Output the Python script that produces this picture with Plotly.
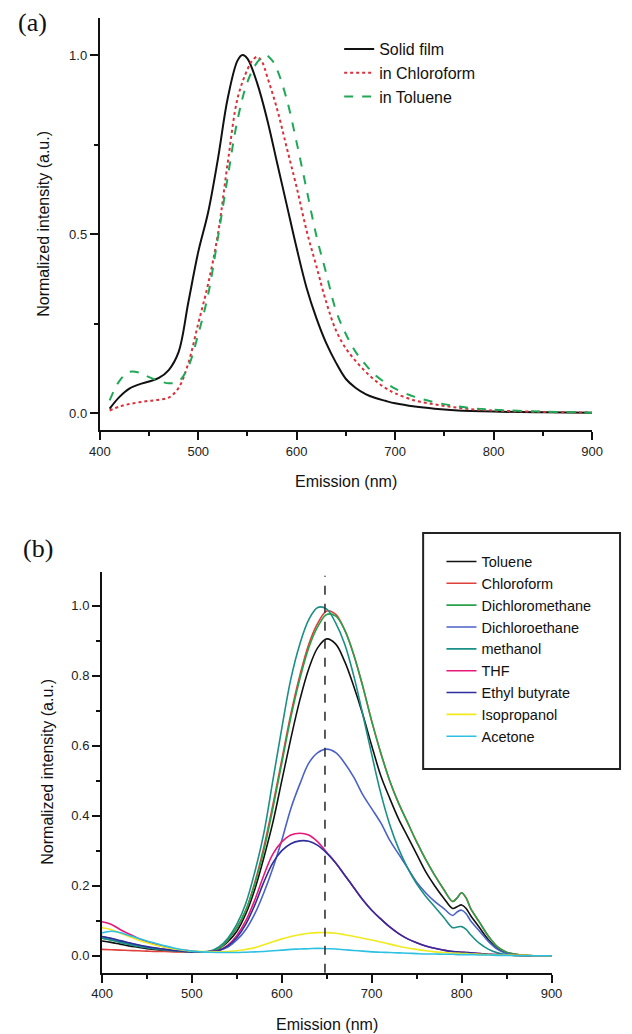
import plotly.graph_objects as go

W, H = 632, 1034

# ---------------- Panel (a) data ----------------
wl_film = [410, 420, 430, 440, 450, 460, 470, 480, 490, 500, 510, 520, 530, 540, 545, 550,
           560, 570, 580, 590, 600, 610, 620, 630, 640, 650, 660, 670, 680, 690, 700,
           720, 740, 760, 800, 850, 900]
solid_film = [0.012, 0.045, 0.068, 0.080, 0.088, 0.098, 0.120, 0.170, 0.310, 0.450, 0.560,
              0.710, 0.880, 0.985, 1.000, 0.990, 0.920, 0.820, 0.700, 0.580, 0.460, 0.350,
              0.265, 0.195, 0.140, 0.095, 0.070, 0.053, 0.042, 0.034, 0.027, 0.018, 0.012,
              0.008, 0.004, 0.002, 0.001]

wl_chcl3 = [410, 420, 430, 440, 450, 460, 470, 480, 490, 500, 510, 520, 530, 540, 550, 555,
            560, 565, 570, 580, 590, 600, 610, 620, 630, 640, 650, 660, 670, 680, 690, 700,
            720, 740, 760, 780, 800, 850, 900]
in_chloroform = [0.007, 0.018, 0.025, 0.030, 0.034, 0.037, 0.043, 0.070, 0.140, 0.250, 0.360,
                 0.500, 0.700, 0.880, 0.960, 0.985, 0.995, 0.980, 0.940, 0.850, 0.740, 0.630,
                 0.510, 0.410, 0.310, 0.230, 0.180, 0.145, 0.115, 0.090, 0.070, 0.055, 0.035,
                 0.024, 0.016, 0.010, 0.007, 0.003, 0.001]

wl_tol = [410, 420, 430, 440, 450, 460, 470, 480, 490, 500, 510, 520, 530, 540, 550, 560,
          568, 575, 580, 590, 600, 610, 620, 630, 640, 650, 660, 670, 680, 690, 700,
          720, 740, 760, 780, 800, 850, 900]
in_toluene = [0.035, 0.090, 0.115, 0.113, 0.100, 0.090, 0.083, 0.088, 0.130, 0.220, 0.330,
              0.490, 0.660, 0.820, 0.925, 0.980, 1.000, 0.985, 0.960, 0.875, 0.755, 0.625,
              0.495, 0.390, 0.285, 0.220, 0.170, 0.135, 0.105, 0.085, 0.068, 0.045, 0.030,
              0.020, 0.013, 0.009, 0.004, 0.001]

legend_a = ["Solid film", "in Chloroform", "in Toluene"]

# ---------------- Panel (b) data ----------------
wl_b = [400, 410, 420, 430, 440, 450, 460, 470, 480, 490,
        500, 510, 520, 530, 540, 550, 560, 570, 580, 590,
        600, 610, 620, 630, 640, 650, 660, 670, 680, 690,
        700, 710, 720, 730, 740, 750, 760, 770, 780, 790,
        795, 800, 805,
        810, 820, 830, 840, 850, 860, 870, 880, 890, 900]

toluene = [0.042, 0.038, 0.033, 0.028, 0.024, 0.020, 0.017, 0.015, 0.013, 0.012,
           0.011, 0.011, 0.012, 0.020, 0.040, 0.070, 0.120, 0.190, 0.280, 0.380,
           0.500, 0.620, 0.730, 0.820, 0.880, 0.905, 0.890, 0.840, 0.770, 0.690,
           0.600, 0.515, 0.450, 0.390, 0.340, 0.290, 0.240, 0.200, 0.165, 0.135,
           0.140, 0.145, 0.135,
           0.115, 0.080, 0.045, 0.020, 0.008, 0.003, 0.001, 0.0, 0.0, 0.0]
chloroform = [0.018, 0.017, 0.016, 0.015, 0.014, 0.013, 0.012, 0.012, 0.011, 0.011,
              0.010, 0.010, 0.012, 0.020, 0.045, 0.080, 0.130, 0.210, 0.310, 0.430,
              0.560, 0.690, 0.800, 0.890, 0.950, 0.985, 0.975, 0.930, 0.860, 0.770,
              0.670, 0.580, 0.500, 0.435, 0.380, 0.325, 0.275, 0.230, 0.190, 0.155,
              0.165, 0.180, 0.165,
              0.135, 0.095, 0.055, 0.025, 0.010, 0.004, 0.001, 0.0, 0.0, 0.0]
dichloromethane = [0.050, 0.045, 0.039, 0.033, 0.028, 0.024, 0.020, 0.017, 0.015, 0.013,
                   0.012, 0.011, 0.012, 0.020, 0.045, 0.080, 0.130, 0.205, 0.300, 0.420,
                   0.550, 0.680, 0.790, 0.880, 0.940, 0.975, 0.970, 0.930, 0.860, 0.770,
                   0.670, 0.580, 0.500, 0.435, 0.380, 0.325, 0.275, 0.230, 0.190, 0.155,
                   0.165, 0.180, 0.165,
                   0.135, 0.095, 0.055, 0.025, 0.010, 0.004, 0.001, 0.0, 0.0, 0.0]
dichloroethane = [0.055, 0.049, 0.042, 0.036, 0.030, 0.025, 0.021, 0.018, 0.015, 0.013,
                  0.011, 0.010, 0.010, 0.015, 0.025, 0.045, 0.075, 0.120, 0.180, 0.250,
                  0.330, 0.420, 0.490, 0.550, 0.580, 0.590, 0.580, 0.550, 0.510, 0.460,
                  0.420, 0.380, 0.330, 0.290, 0.250, 0.210, 0.180, 0.155, 0.135, 0.115,
                  0.125, 0.130, 0.120,
                  0.100, 0.070, 0.040, 0.018, 0.006, 0.002, 0.0, 0.0, 0.0, 0.0]
methanol = [0.050, 0.045, 0.038, 0.032, 0.027, 0.023, 0.019, 0.016, 0.014, 0.012,
            0.011, 0.011, 0.013, 0.025, 0.050, 0.090, 0.150, 0.240, 0.350, 0.500,
            0.650, 0.790, 0.890, 0.960, 0.995, 0.990, 0.950, 0.890, 0.800, 0.690,
            0.575, 0.465, 0.375, 0.305, 0.250, 0.205, 0.170, 0.140, 0.110, 0.080,
            0.082, 0.083, 0.075,
            0.060, 0.035, 0.018, 0.008, 0.003, 0.001, 0.0, 0.0, 0.0, 0.0]
thf = [0.097, 0.090, 0.075, 0.062, 0.050, 0.040, 0.032, 0.025, 0.020, 0.016,
       0.013, 0.011, 0.012, 0.015, 0.030, 0.058, 0.100, 0.160, 0.230, 0.290,
       0.325, 0.345, 0.350, 0.345, 0.325, 0.295, 0.265, 0.230, 0.195, 0.160,
       0.130, 0.105, 0.082, 0.063, 0.048, 0.037, 0.028, 0.021, 0.016, 0.012,
       0.011, 0.010, 0.009,
       0.008, 0.006, 0.004, 0.003, 0.002, 0.001, 0.0, 0.0, 0.0, 0.0]
ethyl_butyrate = [0.055, 0.050, 0.043, 0.037, 0.031, 0.026, 0.022, 0.018, 0.015, 0.013,
                  0.011, 0.010, 0.011, 0.015, 0.028, 0.052, 0.090, 0.145, 0.210, 0.265,
                  0.300, 0.320, 0.328, 0.327, 0.315, 0.293, 0.265, 0.230, 0.195, 0.160,
                  0.130, 0.105, 0.082, 0.063, 0.048, 0.037, 0.028, 0.021, 0.016, 0.012,
                  0.011, 0.010, 0.009,
                  0.008, 0.006, 0.004, 0.003, 0.002, 0.001, 0.0, 0.0, 0.0, 0.0]
isopropanol = [0.080, 0.075, 0.065, 0.055, 0.045, 0.037, 0.030, 0.024, 0.019, 0.016,
               0.013, 0.012, 0.011, 0.011, 0.012, 0.014, 0.018, 0.023, 0.031, 0.040,
               0.048, 0.055, 0.060, 0.064, 0.066, 0.066, 0.064, 0.060, 0.055, 0.050,
               0.045, 0.039, 0.033, 0.027, 0.022, 0.018, 0.014, 0.011, 0.009, 0.007,
               0.007, 0.006, 0.006,
               0.005, 0.004, 0.003, 0.002, 0.002, 0.001, 0.001, 0.0, 0.0, 0.0]
acetone = [0.065, 0.070, 0.066, 0.058, 0.050, 0.042, 0.035, 0.028, 0.022, 0.017,
           0.013, 0.011, 0.010, 0.009, 0.009, 0.009, 0.010, 0.011, 0.012, 0.014,
           0.016, 0.018, 0.019, 0.020, 0.021, 0.020, 0.019, 0.017, 0.015, 0.013,
           0.011, 0.010, 0.009, 0.008, 0.007, 0.006, 0.005, 0.005, 0.004, 0.004,
           0.003, 0.003, 0.003,
           0.003, 0.002, 0.002, 0.001, 0.001, 0.0, 0.0, 0.0, 0.0, 0.0]

solvents_b = ["Toluene", "Chloroform", "Dichloromethane", "Dichloroethane", "methanol",
              "THF", "Ethyl butyrate", "Isopropanol", "Acetone"]
series_b = [toluene, chloroform, dichloromethane, dichloroethane, methanol,
            thf, ethyl_butyrate, isopropanol, acetone]
colors_b = ["#111111", "#e0403a", "#27a24a", "#4a62c8", "#1a8f86",
            "#e8197a", "#2e2f9c", "#f0ea1e", "#2cc0e2"]

ref_wavelength = 648

x_ticks = [400, 500, 600, 700, 800, 900]

# ---------------- Figure ----------------
fig = go.Figure()

fig.add_trace(go.Scatter(x=wl_film, y=solid_film, name=legend_a[0], mode="lines",
                         line=dict(color="#111111", width=2, shape="spline"),
                         xaxis="x", yaxis="y", legend="legend"))
fig.add_trace(go.Scatter(x=wl_chcl3, y=in_chloroform, name=legend_a[1], mode="lines",
                         line=dict(color="#d9303a", width=2, dash="dot", shape="spline"),
                         xaxis="x", yaxis="y", legend="legend"))
fig.add_trace(go.Scatter(x=wl_tol, y=in_toluene, name=legend_a[2], mode="lines",
                         line=dict(color="#1fa855", width=2, dash="dash", shape="spline"),
                         xaxis="x", yaxis="y", legend="legend"))

for name, vals, col in zip(solvents_b, series_b, colors_b):
    fig.add_trace(go.Scatter(x=wl_b, y=vals, name=name, mode="lines",
                             line=dict(color=col, width=1.6, shape="spline"),
                             xaxis="x2", yaxis="y2", legend="legend2"))


def px_x(p):
    return p / W


def px_y(p):
    return 1 - p / H


axis_font = dict(family="Liberation Sans, Arial, sans-serif", size=13, color="#222222")
common_axis = dict(showline=True, linecolor="#111111", linewidth=2, ticks="outside",
                   ticklen=8, tickwidth=2, tickcolor="#111111", showgrid=False,
                   zeroline=False, tickfont=axis_font, mirror=False)

fig.update_layout(
    width=W, height=H, margin=dict(l=0, r=0, t=0, b=0),
    paper_bgcolor="white", plot_bgcolor="white",
    font=dict(family="Liberation Sans, Arial, sans-serif", color="#111111"),
    xaxis=dict(domain=[px_x(92), px_x(602)], range=[400, 900], anchor="y",
               tickvals=x_ticks, minor=dict(dtick=50, ticks="outside", ticklen=4,
                                            tickwidth=2, tickcolor="#111111"),
               **common_axis),
    yaxis=dict(domain=[px_y(430), px_y(18)], range=[-0.0475, 1.1034], anchor="x",
               tickvals=[0.0, 0.5, 1.0], tickformat=".1f",
               minor=dict(tickvals=[0.25, 0.75], ticks="outside", ticklen=4,
                          tickwidth=2, tickcolor="#111111"),
               **common_axis),
    xaxis2=dict(domain=[px_x(94.3), px_x(560)], range=[400, 900], anchor="y2",
                tickvals=x_ticks, minor=dict(dtick=50, ticks="outside", ticklen=4,
                                             tickwidth=2, tickcolor="#111111"),
                **common_axis),
    yaxis2=dict(domain=[px_y(972.7), px_y(571.7)], range=[-0.0486, 1.097], anchor="x2",
                tickvals=[0.0, 0.2, 0.4, 0.6, 0.8, 1.0], tickformat=".1f",
                minor=dict(tickvals=[0.1, 0.3, 0.5, 0.7, 0.9, 1.1], ticks="outside",
                           ticklen=4, tickwidth=2, tickcolor="#111111"),
                **common_axis),
    legend=dict(x=px_x(340), y=px_y(32), xanchor="left", yanchor="top",
                bgcolor="rgba(0,0,0,0)", borderwidth=0,
                font=dict(family="Liberation Sans, Arial, sans-serif", size=16,
                          color="#111111"),
                tracegroupgap=0),
    legend2=dict(x=px_x(446), y=px_y(545.5), xanchor="left", yanchor="top",
                 bgcolor="rgba(0,0,0,0)", borderwidth=0,
                 font=dict(family="Liberation Sans, Arial, sans-serif", size=14.5,
                           color="#111111"),
                 tracegroupgap=0),
    showlegend=True,
)

# reference wavelength marker
fig.add_shape(type="line", xref="x2", yref="y2 domain", x0=ref_wavelength, x1=ref_wavelength,
              y0=0, y1=0.99, line=dict(color="#333333", width=1.6, dash="dash"))

# legend frame for panel (b)
fig.add_shape(type="rect", xref="paper", yref="paper",
              x0=px_x(427), x1=px_x(631), y0=px_y(769), y1=px_y(533),
              line=dict(color="#222222", width=2), fillcolor="rgba(0,0,0,0)")

title_font = dict(family="Liberation Sans, Arial, sans-serif", size=16, color="#111111")
serif_font = dict(family="Liberation Serif, Times New Roman, serif", size=26, color="#111111")
ann = [
    dict(text="(a)", x=px_x(22), y=px_y(22), font=serif_font),
    dict(text="(b)", x=px_x(28), y=px_y(548), font=serif_font),
    dict(text="Emission (nm)", x=px_x(347), y=px_y(481), font=title_font),
    dict(text="Emission (nm)", x=px_x(327), y=px_y(1024), font=title_font),
    dict(text="Normalized intensity (a.u.)", x=px_x(34), y=px_y(224), textangle=-90, font=title_font),
    dict(text="Normalized intensity (a.u.)", x=px_x(37), y=px_y(772), textangle=-90, font=title_font),
]
for a in ann:
    fig.add_annotation(xref="paper", yref="paper", showarrow=False,
                       xanchor="center", yanchor="middle", **a)

fig.write_html("out.html")
